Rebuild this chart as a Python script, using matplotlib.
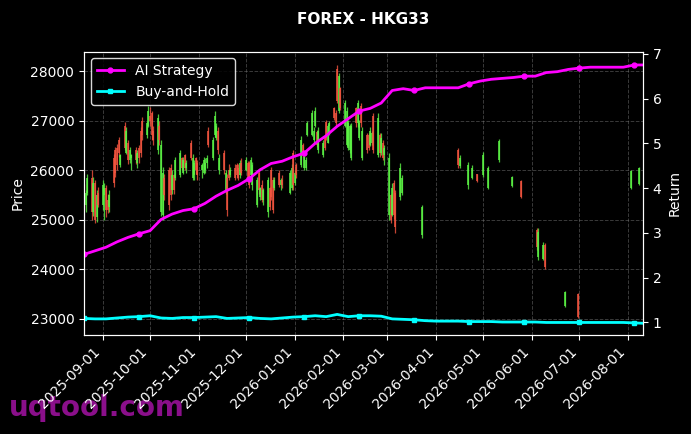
"""FOREX HKG33 candles with strategy return overlay."""

import numpy as np
import pandas as pd

import matplotlib
matplotlib.use("Agg")
import matplotlib.pyplot as plt
import matplotlib.dates as mdates

# ---- daily candles, dense part (business days, two holidays skipped) ----
dense_start = "2025-08-20"
dense_end = "2026-03-10"
holidays = ["2025-12-25", "2025-12-26"]

dense_open = [
    25700, 25300, 25550, 25850, 25150, 25750, 25050, 25550,
    25300, 25500, 25650, 25400, 25250, 26250, 26400, 26450, 26600, 26100, 26900,
    26350, 26550, 26200, 26250, 26400, 26150, 26450, 26800, 27000, 26700, 26900,
    27100, 27150, 26800, 26400, 26900, 25150, 25100, 25850, 26000, 26050, 25600,
    25900, 25850, 25900, 26250, 25950, 26300, 26050, 26550, 25850, 25900, 26250, 26150,
    26000, 25950, 26000, 26150, 26800, 26250, 26700, 26650, 26800, 26000,
    26350, 25600, 25850, 26000, 25900, 26050, 26100, 26050, 25900, 26150,
    26000, 26150, 26150, 25900, 25700, 25300, 25950, 25450, 25700, 25400, 25150,
    25650, 26000, 25800, 25650, 25950, 25700, 25800, 25550, 25650, 26350,
    25750, 26100, 26100, 26500, 26050, 26050, 26700, 26700, 26600, 26900, 26780,
    26400, 26300, 26650, 26980, 26550, 26900, 27250, 27150, 28050, 27200, 27650,
    26900, 26500, 26450, 26400, 26250, 27250, 26950, 26650, 27300, 26250,
    26700, 26700, 26500, 26550, 27100, 26300, 26700, 26350, 26550, 26300,
    25100, 25500, 25100, 25750, 25550, 25450, 25550,
]
dense_high = [
    25730, 25600, 25930, 26000, 25870, 25800, 25600, 25670,
    25800, 25750, 25700, 25530, 25600, 26330, 26470, 26530, 26670, 26330, 26970,
    26870, 26600, 26470, 26330, 26470, 26400, 26500, 26870, 27070, 27000, 27300,
    27270, 27200, 26900, 27130, 27000, 26600, 26070, 25930, 26070, 26130, 26000,
    25930, 26270, 26400, 26270, 26270, 26330, 26200, 26600, 26330, 26200, 26270, 26200,
    26150, 26270, 26250, 26300, 26870, 26670, 27200, 26950, 26870, 26330,
    26400, 26000, 25930, 26130, 26070, 26130, 26150, 26130, 26200, 26250,
    26260, 26190, 26190, 26260, 26160, 25860, 26000, 25670, 25800, 25650, 25860,
    25670, 26060, 25860, 25860, 26000, 25850, 25900, 26000, 26130, 26400,
    26000, 26150, 26680, 26540, 26330, 26270, 27000, 27210, 26870, 27280, 26810,
    26880, 26610, 26680, 27010, 26940, 27000, 27280, 27210, 28120, 27950, 27680,
    27410, 27280, 27010, 26940, 26950, 27280, 27410, 27010, 27350, 26880,
    26740, 26740, 26880, 26800, 27150, 27150, 26740, 26740, 26600, 26500,
    26340, 25530, 25740, 25810, 25600, 26140, 25900,
]
dense_low = [
    25200, 25150, 25500, 25000, 25070, 24930, 24950, 25250,
    25200, 25000, 25050, 25130, 25150, 25670, 25870, 26000, 26270, 26070, 26400,
    26330, 26130, 26150, 26000, 26130, 26050, 26150, 26270, 26600, 26650, 26870,
    26900, 26600, 26500, 26330, 26500, 25070, 25000, 25400, 25200, 25400, 25530,
    25530, 25800, 25870, 26000, 25930, 26000, 25950, 26200, 25800, 25800, 25930, 25800,
    25850, 25930, 25950, 26050, 26470, 26200, 26670, 26600, 26330, 25930,
    25930, 25530, 25070, 25800, 25870, 25800, 25850, 25800, 25850, 25900,
    25990, 25790, 25650, 25860, 25600, 25250, 25530, 25400, 25350, 25300, 25060,
    25200, 25390, 25130, 25600, 25670, 25600, 25650, 25530, 25600, 25600,
    25700, 25850, 26070, 26270, 26000, 26000, 26680, 26680, 26540, 26880, 26470,
    26340, 26270, 26410, 26610, 26540, 26700, 27010, 26880, 27350, 27150, 27210,
    26880, 26480, 26410, 26340, 26210, 26880, 26880, 26610, 26880, 26210,
    26340, 26410, 26480, 26500, 26340, 26270, 26270, 26300, 26200, 26100,
    25000, 24930, 25070, 25010, 24740, 25400, 25500,
]
dense_close = [
    25300, 25550, 25850, 25150, 25750, 25000, 25500, 25300,
    25700, 25650, 25200, 25200, 25500, 25750, 25950, 26100, 26350, 26300, 26450,
    26800, 26200, 26400, 26300, 26200, 26350, 26250, 26350, 26700, 26950, 27200,
    27000, 26700, 26600, 27050, 26600, 26500, 25950, 25500, 25300, 25500, 25900,
    25600, 26200, 26350, 26050, 26200, 26050, 26150, 26250, 26250, 26150, 26000, 25900,
    26100, 26200, 26150, 26250, 26500, 26600, 27100, 26900, 26400, 26250,
    26000, 25950, 25200, 25850, 26000, 25850, 25900, 25850, 26150, 25950,
    26200, 25850, 25700, 26200, 26100, 25800, 25600, 25650, 25400, 25600, 25800,
    25250, 25450, 25200, 25800, 25700, 25800, 25700, 25950, 26050, 25700,
    25950, 25900, 26600, 26300, 26270, 26200, 26950, 27150, 26800, 27200, 26500,
    26800, 26550, 26450, 26650, 26900, 26950, 27050, 26950, 27400, 27900, 27250,
    27350, 27200, 26950, 26900, 26900, 26950, 27350, 26950, 26950, 26800,
    26400, 26450, 26800, 26750, 26400, 27050, 26350, 26650, 26250, 26450,
    26250, 25000, 25650, 25100, 24850, 26050, 25850,
]

# ---- scattered later candles ----
sparse_dates = [
    "2026-03-23", "2026-04-15", "2026-04-16", "2026-04-21", "2026-04-24",
    "2026-04-27", "2026-05-01", "2026-05-04", "2026-05-11", "2026-05-19",
    "2026-05-25", "2026-06-04", "2026-06-05", "2026-06-08", "2026-06-09",
    "2026-06-22", "2026-06-30", "2026-08-03", "2026-08-08",
]
sparse_open = [24700, 26400, 26080, 25700, 25850, 25920, 25900, 25650, 26200, 25690,
               25780, 24800, 24250, 24200, 24500, 23270, 23500, 25650, 25720]
sparse_high = [25300, 26440, 26300, 26170, 26100, 25930, 26370, 26080, 26620, 25880,
               25800, 24830, 24830, 24560, 24530, 23570, 23520, 26000, 26070]
sparse_low = [24630, 26040, 26040, 25630, 25830, 25760, 25870, 25630, 26170, 25670,
              25430, 24400, 24190, 24190, 24000, 23250, 23010, 25630, 25700]
sparse_close = [25250, 26100, 26250, 26100, 26050, 25780, 26300, 26050, 26580, 25860,
                25450, 24450, 24750, 24500, 24050, 23540, 23030, 25980, 26050]

# ---- weekly cumulative returns ----
return_start = "2025-08-20"
ai_strategy = [
    2.52, 2.60, 2.68, 2.80, 2.90, 2.98, 3.05, 3.30, 3.42, 3.50,
    3.54, 3.66, 3.82, 3.95, 4.06, 4.21, 4.41, 4.55, 4.60, 4.70,
    4.78, 5.00, 5.17, 5.38, 5.55, 5.72, 5.78, 5.90, 6.18, 6.22,
    6.18, 6.24, 6.24, 6.24, 6.24, 6.33, 6.39, 6.43, 6.45, 6.47,
    6.50, 6.50, 6.58, 6.60, 6.65, 6.68, 6.70, 6.70, 6.70, 6.70,
    6.75, 6.75,
]
buy_and_hold = [
    1.09, 1.08, 1.08, 1.10, 1.12, 1.13, 1.15, 1.10, 1.09, 1.11,
    1.11, 1.12, 1.13, 1.09, 1.10, 1.11, 1.09, 1.08, 1.10, 1.12,
    1.13, 1.15, 1.13, 1.18, 1.13, 1.15, 1.15, 1.14, 1.08, 1.07,
    1.06, 1.04, 1.03, 1.03, 1.03, 1.02, 1.02, 1.02, 1.01, 1.01,
    1.01, 1.01, 1.00, 1.00, 1.00, 1.00, 1.00, 1.00, 1.00, 1.00,
    0.99, 0.98,
]

UP = "#5cf545"
DOWN = "#f5553f"

dense_dates = pd.bdate_range(dense_start, dense_end, freq="C", holidays=holidays)
dates = list(dense_dates) + list(pd.to_datetime(sparse_dates))
opens = np.array(dense_open + sparse_open, dtype=float)
highs = np.array(dense_high + sparse_high, dtype=float)
lows = np.array(dense_low + sparse_low, dtype=float)
closes = np.array(dense_close + sparse_close, dtype=float)
x = mdates.date2num(dates)
colors = np.where(closes >= opens, UP, DOWN)

ret_dates = pd.date_range(return_start, periods=len(ai_strategy), freq="7D")

fig = plt.figure(figsize=(6.91, 4.34), dpi=100, facecolor="black")
ax = fig.add_axes([0.1216, 0.2281, 0.8089, 0.6532])
ax.set_facecolor("black")

# wick + thin body, both drawn as vertical strokes
ax.vlines(x, lows, highs, colors=colors, linewidth=0.9, alpha=0.8)
ax.vlines(x, np.minimum(opens, closes), np.maximum(opens, closes),
          colors=colors, linewidth=1.4, alpha=0.8)

ax.set_ylim(22677, 28393)
ax.set_xlim(mdates.date2num(pd.Timestamp("2025-08-20")),
            mdates.date2num(pd.Timestamp("2026-08-10 12:00")))
ax.set_ylabel("Price", color="white", fontsize=10)
ax.grid(True, linestyle="--", color="gray", alpha=0.45, linewidth=0.7)
ax.xaxis.set_major_locator(mdates.MonthLocator())
ax.xaxis.set_major_formatter(mdates.DateFormatter("%Y-%m-%d"))
plt.setp(ax.get_xticklabels(), rotation=45, ha="right")
ax.tick_params(colors="white", labelsize=10)
ax.set_title("FOREX - HKG33", color="white", fontweight="bold", fontsize=11, pad=20)

ax2 = ax.twinx()
ax2.plot(ret_dates, ai_strategy, color="#ff00ff", linewidth=2, marker="o",
         markersize=3.5, markevery=5, label="AI Strategy")
ax2.plot(ret_dates, buy_and_hold, color="#00ffff", linewidth=2, marker="s",
         markersize=3.5, markevery=5, label="Buy-and-Hold")
ax2.set_ylim(0.72, 7.05)
ax2.set_ylabel("Return", color="white", fontsize=10)
ax2.tick_params(colors="white", labelsize=10)
for a in (ax, ax2):
    for sp in a.spines.values():
        sp.set_color("white")

leg = ax2.legend(loc="upper left", fontsize=10, facecolor="black",
                 edgecolor="white", labelcolor="white", framealpha=0.85)

fig.text(0.013, 0.06, "uqtool.com", color="#8a0f8a", fontsize=20,
         fontweight="bold", va="center", zorder=-1)

fig.savefig("out.png", dpi=100, facecolor="black")
plt.close(fig)
